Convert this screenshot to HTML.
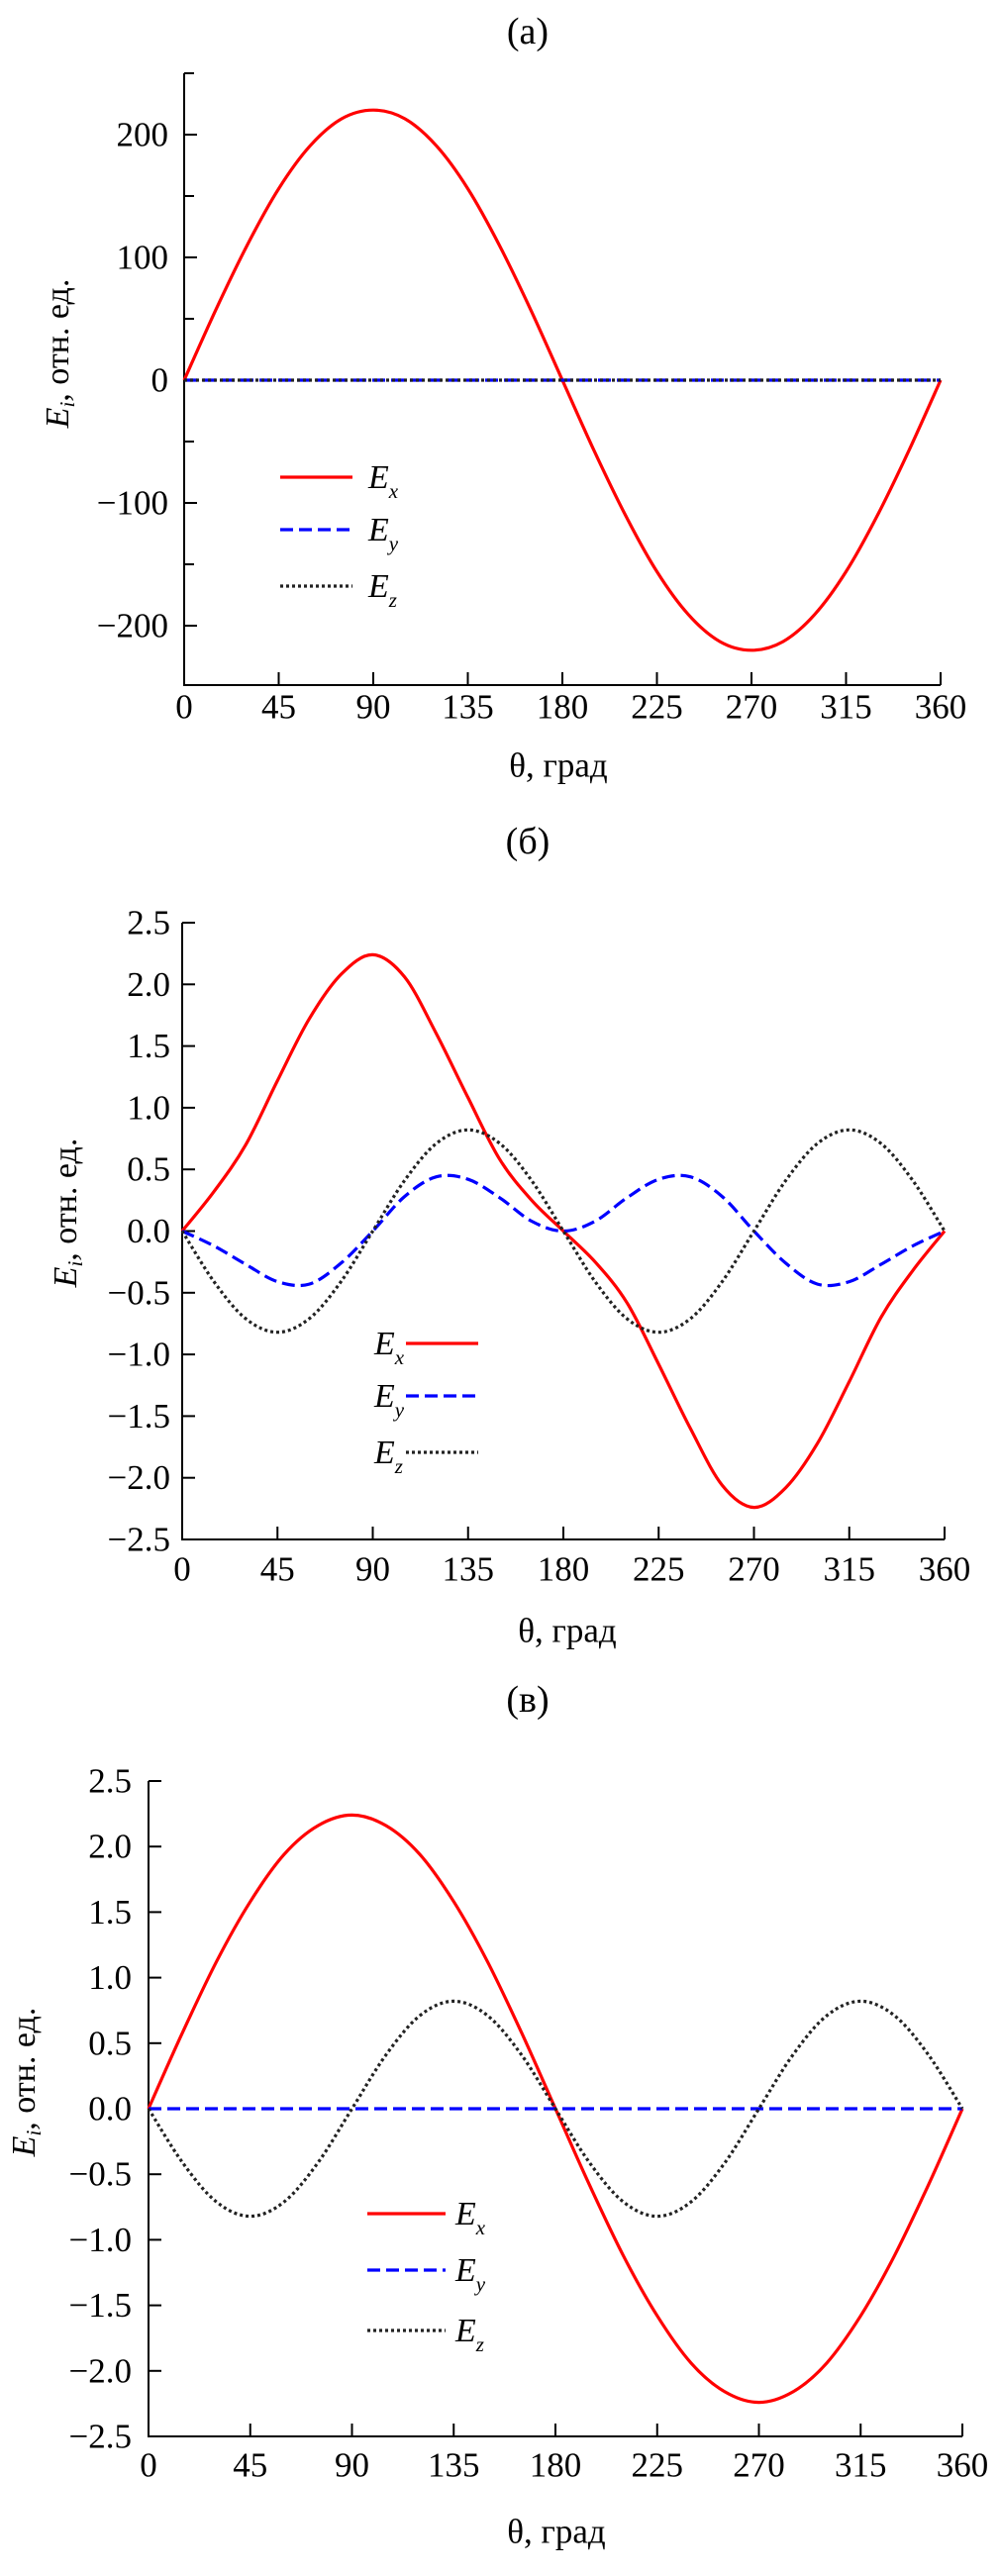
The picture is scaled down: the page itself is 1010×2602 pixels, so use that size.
<!DOCTYPE html>
<html><head><meta charset="utf-8">
<style>
html,body{margin:0;padding:0;background:#fff;}
svg{display:block;}
svg text{font-family:"Liberation Serif","Times New Roman","DejaVu Serif",serif;}
</style></head>
<body>
<svg id="fig" width="1010" height="2602" viewBox="0 0 1010 2602" xmlns="http://www.w3.org/2000/svg"></svg>
<script>
const thetaA = [0,15,30,45,60,75,90,105,120,135,150,165,180,195,210,225,240,255,270,285,300,315,330,345,360];
const exA = [0,57,110,156,191,213,220,213,191,156,110,57,0,-57,-110,-156,-191,-213,-220,-213,-191,-156,-110,-57,0];
const eyA = [0,0,0,0,0,0,0,0,0,0,0,0,0,0,0,0,0,0,0,0,0,0,0,0,0];
const ezA = [0,0,0,0,0,0,0,0,0,0,0,0,0,0,0,0,0,0,0,0,0,0,0,0,0];
const ticksA = [-200,-100,0,100,200];

const thetaB = [0,15,30,45,60,75,90,105,120,135,150,165,180,195,210,225,240,255,270,285,300,315,330,345,360];
const exB = [0,0.32,0.7,1.22,1.72,2.08,2.24,2.06,1.6,1.08,0.58,0.25,0,-0.25,-0.58,-1.08,-1.6,-2.06,-2.24,-2.08,-1.72,-1.22,-0.7,-0.32,0];
const eyB = [0,-0.12,-0.27,-0.41,-0.43,-0.26,0,0.28,0.44,0.42,0.27,0.08,0,0.08,0.27,0.42,0.44,0.28,0,-0.26,-0.43,-0.41,-0.27,-0.12,0];
const ezB = [0,-0.41,-0.71,-0.82,-0.71,-0.41,0,0.41,0.71,0.82,0.71,0.41,0,-0.41,-0.71,-0.82,-0.71,-0.41,0,0.41,0.71,0.82,0.71,0.41,0];
const ticksB = ["2.5","2.0","1.5","1.0","0.5","0.0","\u22120.5","\u22121.0","\u22121.5","\u22122.0","\u22122.5"];

const thetaC = [0,15,30,45,60,75,90,105,120,135,150,165,180,195,210,225,240,255,270,285,300,315,330,345,360];
const exC = [0,0.58,1.12,1.58,1.94,2.16,2.24,2.16,1.94,1.58,1.12,0.58,0,-0.58,-1.12,-1.58,-1.94,-2.16,-2.24,-2.16,-1.94,-1.58,-1.12,-0.58,0];
const eyC = [0,0,0,0,0,0,0,0,0,0,0,0,0,0,0,0,0,0,0,0,0,0,0,0,0];
const ezC = [0,-0.41,-0.71,-0.82,-0.71,-0.41,0,0.41,0.71,0.82,0.71,0.41,0,-0.41,-0.71,-0.82,-0.71,-0.41,0,0.41,0.71,0.82,0.71,0.41,0];
const ticksC = ["2.5","2.0","1.5","1.0","0.5","0.0","\u22120.5","\u22121.0","\u22121.5","\u22122.0","\u22122.5"];

const xTicks = [0,45,90,135,180,225,270,315,360];

const NS = "http://www.w3.org/2000/svg";
const FONT = '"Liberation Serif", "Times New Roman", "DejaVu Serif", serif';
const svg = document.getElementById('fig');
function mk(tag, attrs, parent){
  const e = document.createElementNS(NS, tag);
  for (const k in attrs) e.setAttribute(k, attrs[k]);
  (parent||svg).appendChild(e);
  return e;
}
function txt(parent, x, y, s, size, anchor, name){
  const t = mk('text', {x:x, y:y, 'font-size':size, 'font-family':FONT, 'text-anchor':anchor||'middle', 'dominant-baseline':'central', fill:'#000'}, parent);
  t.textContent = s;
  
  
  return t;
}
function legendLabel(parent, x, y, sub, name){
  const t = mk('text', {x:x, y:y, 'font-size':34, 'font-family':FONT, 'font-style':'italic', 'dominant-baseline':'central', fill:'#000'}, parent);
  
  
  const a = mk('tspan', {}, t); a.textContent = 'E';
  const b = mk('tspan', {dy:14, 'font-size':21}, t); b.textContent = sub;
}
const styles = {
  x:{stroke:'#ff0000', 'stroke-width':3.2, fill:'none'},
  y:{stroke:'#0000ff', 'stroke-width':3.2, fill:'none', 'stroke-dasharray':'13 6'},
  z:{stroke:'#222', 'stroke-width':3.2, fill:'none', 'stroke-dasharray':'3 3'}
};
function smooth(pts){
  let d = 'M' + pts[0][0].toFixed(1) + ',' + pts[0][1].toFixed(1);
  for (let i=0;i<pts.length-1;i++){
    const p0 = pts[Math.max(0,i-1)], p1 = pts[i], p2 = pts[i+1], p3 = pts[Math.min(pts.length-1,i+2)];
    const c1x = p1[0] + (p2[0]-p0[0])/6, c1y = p1[1] + (p2[1]-p0[1])/6;
    const c2x = p2[0] - (p3[0]-p1[0])/6, c2y = p2[1] - (p3[1]-p1[1])/6;
    d += 'C' + c1x.toFixed(1)+','+c1y.toFixed(1)+' '+c2x.toFixed(1)+','+c2y.toFixed(1)+' '+p2[0].toFixed(1)+','+p2[1].toFixed(1);
  }
  return d;
}

function chart(cfg){
  const g = mk('g', {});
  
  
  const sx = v => cfg.x0 + (v/360)*(cfg.x1-cfg.x0);
  const sy = v => cfg.yZero - v*cfg.pxPer;
  txt(g, cfg.titleX, cfg.titleY, cfg.title, 38, 'middle', 'panel-title');
  const ax = mk('path', {d:`M${cfg.x0},${cfg.yTop} V${cfg.yBot} H${cfg.x1}`, stroke:'#000', 'stroke-width':2, fill:'none'}, g);
  
  
  xTicks.forEach(v=>{
    const t = mk('line', {x1:sx(v), x2:sx(v), y1:cfg.yBot, y2:cfg.yBot-13, stroke:'#000', 'stroke-width':2}, g);
    
    
    txt(g, sx(v), cfg.xLabY, String(v), 35, 'middle', 'x-tick-label');
  });
  cfg.yTicks.forEach((lab,i)=>{
    const v = cfg.yTickVals[i];
    const t = mk('line', {x1:cfg.x0, x2:cfg.x0+13, y1:sy(v), y2:sy(v), stroke:'#000', 'stroke-width':2}, g);
    
    
    txt(g, cfg.x0-cfg.labGap, sy(v), lab, 35, 'end', 'y-tick-label');
  });
  (cfg.minor||[]).forEach(v=>{
    const t = mk('line', {x1:cfg.x0, x2:cfg.x0+10, y1:sy(v), y2:sy(v), stroke:'#000', 'stroke-width':2}, g);
    
    
  });
  txt(g, cfg.xTitleX, cfg.xTitleY, 'θ, град', 35, 'middle', 'x-axis-title');
  const yt = mk('text', {x:0, y:0, 'font-size':34, 'font-family':FONT, 'text-anchor':'middle', 'dominant-baseline':'central', transform:`translate(${cfg.yTitleX},${cfg.yTitleY}) rotate(-90)`}, g);
  
  
  const e1 = mk('tspan', {'font-style':'italic'}, yt); e1.textContent = 'E';
  const e2 = mk('tspan', {'font-style':'italic', 'font-size':21, dy:10}, yt); e2.textContent = 'i';
  const e3 = mk('tspan', {dy:-10}, yt); e3.textContent = ', отн. ед.';
  [['x',cfg.ex],['y',cfg.ey],['z',cfg.ez]].forEach(([k,arr])=>{
    const pts = arr.map((v,i)=>[sx(cfg.theta[i]), sy(v)]);
    const p = mk('path', Object.assign({d:smooth(pts), 'stroke-linejoin':'round'}, styles[k]), g);
    
    
  });
  ['x','y','z'].forEach((k,i)=>{
    const y = cfg.legY[i];
    const l = mk('line', Object.assign({x1:cfg.legL1, x2:cfg.legL2, y1:y, y2:y}, styles[k]), g);
    
    
    legendLabel(g, cfg.legT, y, k, 'legend-label-e' + k);
  });
}

chart({name:'chart-a', title:'(a)', titleX:533, titleY:32, x0:186, x1:950, yTop:74, yBot:692, yZero:384, pxPer:1.24,
  theta:thetaA, ex:exA, ey:eyA, ez:ezA, yTicks:ticksA.map(v=>v<0?'\u2212'+(-v):String(v)), yTickVals:ticksA,
  minor:[250,150,50,-50,-150], labGap:16, xLabY:714, xTitleX:564, xTitleY:773, yTitleX:58, yTitleY:357,
  legY:[482,535,592], legL1:283, legL2:356, legT:372});

chart({name:'chart-b', title:'(б)', titleX:533, titleY:850, x0:184, x1:954, yTop:932, yBot:1555, yZero:1243.5, pxPer:124.6,
  theta:thetaB, ex:exB, ey:eyB, ez:ezB, yTicks:ticksB, yTickVals:[2.5,2,1.5,1,0.5,0,-0.5,-1,-1.5,-2,-2.5],
  labGap:12, xLabY:1585, xTitleX:573, xTitleY:1647, yTitleX:66, yTitleY:1225,
  legY:[1357,1410,1467], legL1:410, legL2:483, legT:378});

chart({name:'chart-c', title:'(в)', titleX:533, titleY:1717, x0:150, x1:972, yTop:1799, yBot:2461, yZero:2130, pxPer:132.4,
  theta:thetaC, ex:exC, ey:eyC, ez:ezC, yTicks:ticksC, yTickVals:[2.5,2,1.5,1,0.5,0,-0.5,-1,-1.5,-2,-2.5],
  labGap:17, xLabY:2490, xTitleX:562, xTitleY:2557, yTitleX:24, yTitleY:2103,
  legY:[2236,2293,2354], legL1:371, legL2:450, legT:460});
</script>
</body></html>
